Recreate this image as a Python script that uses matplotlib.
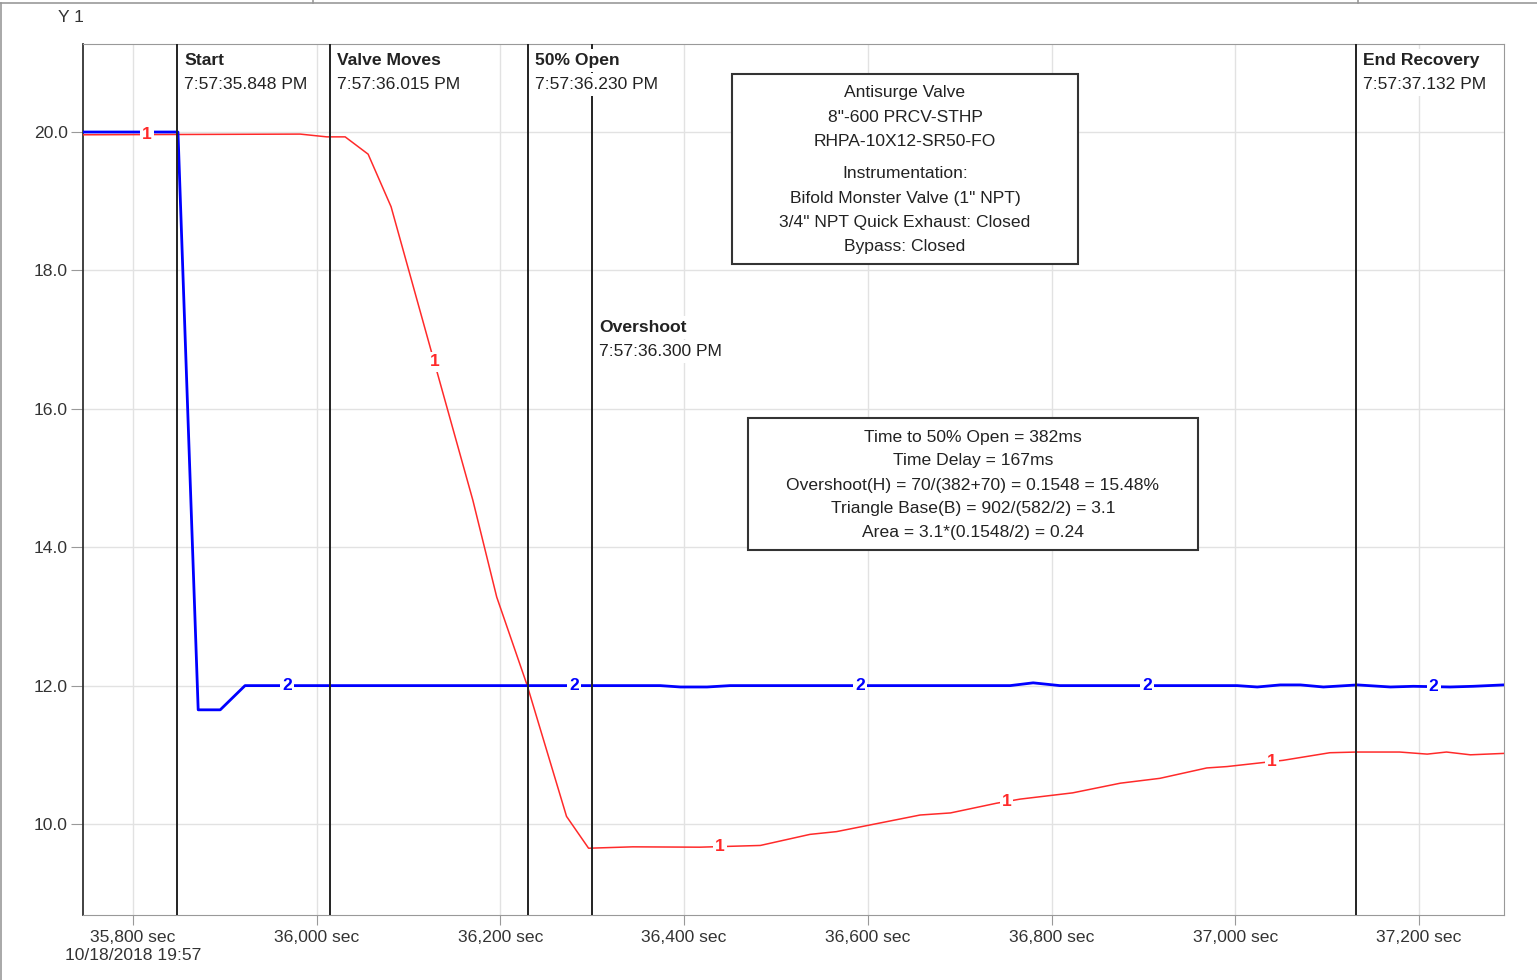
import numpy as np
import matplotlib
matplotlib.use("Agg")
import matplotlib.pyplot as plt
from matplotlib.patches import Rectangle
from matplotlib.lines import Line2D

plt.rcParams['font.family'] = ['Liberation Sans', 'DejaVu Sans']

# series 1 (red)
x1 = [35745, 35982, 36011, 36031, 36056, 36081, 36129, 36170, 36196, 36229,
      36272, 36296, 36344, 36417, 36483, 36537, 36566, 36657, 36690, 36740,
      36766, 36823, 36875, 36918, 36969, 36991, 37052, 37103, 37132, 37179,
      37209, 37230, 37256, 37292]
y1 = [19.96, 19.97, 19.93, 19.93, 19.68, 18.92, 16.63, 14.68, 13.28, 12.01,
      10.11, 9.65, 9.67, 9.665, 9.69, 9.85, 9.89, 10.13, 10.16, 10.30,
      10.36, 10.45, 10.59, 10.66, 10.81, 10.83, 10.92, 11.03, 11.04, 11.04,
      11.01, 11.04, 11.00, 11.02]

# series 2 (blue)
x2 = [35745, 35849, 35871, 35895, 35922, 36374, 36396, 36425, 36450, 36755,
      36780, 36809, 37002, 37024, 37049, 37071, 37096, 37133, 37169, 37194,
      37234, 37259, 37292]
y2 = [20.0, 20.0, 11.65, 11.65, 12.0, 12.0, 11.98, 11.98, 12.0, 12.0,
      12.04, 12.0, 12.0, 11.98, 12.01, 12.01, 11.98, 12.01, 11.98, 11.99,
      11.98, 11.99, 12.01]

# event markers
event_names = ["Start", "Valve Moves", "50% Open", "Overshoot", "End Recovery"]
event_times = ["7:57:35.848 PM", "7:57:36.015 PM", "7:57:36.230 PM",
               "7:57:36.300 PM", "7:57:37.132 PM"]
event_x = [35848, 36015, 36230, 36300, 37132]
event_drop = [0, 0, 0, 267, 0]   # label offset below the top, pixels

x_ticks = [35800, 36000, 36200, 36400, 36600, 36800, 37000, 37200]
y_ticks = [10.0, 12.0, 14.0, 16.0, 18.0, 20.0]
first_date = "10/18/2018 19:57"

box1_lines = ["Antisurge Valve", "8\"-600 PRCV-STHP", "RHPA-10X12-SR50-FO",
              "Instrumentation:", "Bifold Monster Valve (1\" NPT)",
              "3/4\" NPT Quick Exhaust: Closed", "Bypass: Closed"]
box2_lines = ["Time to 50% Open = 382ms", "Time Delay = 167ms",
              "Overshoot(H) = 70/(382+70) = 0.1548 = 15.48%",
              "Triangle Base(B) = 902/(582/2) = 3.1",
              "Area = 3.1*(0.1548/2) = 0.24"]

W, H = 1537, 980
FS = 12.6
TXT = '#222222'


def fx(px):
    return px / W


def fy(py):
    return 1 - py / H


fig = plt.figure(figsize=(W / 100, H / 100), dpi=100)
ax = fig.add_axes([fx(83), fy(915), fx(1504) - fx(83), fy(44) - fy(915)])

ax.plot(x1, y1, color='#ff2a2a', lw=1.1, zorder=3)
ax.plot(x2, y2, color='#0000ff', lw=2.0, zorder=3)

# inline series labels
for xs in [35815, 36128, 36439, 36751, 37040]:
    ax.text(xs, np.interp(xs, x1, y1), "1", color='#ff2a2a', fontsize=FS,
            fontweight='bold', ha='center', va='center', zorder=5,
            bbox=dict(facecolor='white', edgecolor='none', pad=1.5))
for xs in [35968, 36280, 36592, 36904, 37216]:
    ax.text(xs, np.interp(xs, x2, y2), "2", color='#0000ff', fontsize=FS,
            fontweight='bold', ha='center', va='center', zorder=5,
            bbox=dict(facecolor='white', edgecolor='none', pad=1.5))

for name, t, xv, drop in zip(event_names, event_times, event_x, event_drop):
    ax.axvline(xv, color='#222222', lw=1.4, zorder=4)
    ax.annotate(name, xy=(xv, 1), xycoords=('data', 'axes fraction'),
                xytext=(7, -9 - drop), textcoords='offset pixels', va='top',
                ha='left', fontsize=FS, fontweight='bold', color=TXT, zorder=6,
                bbox=dict(facecolor='white', edgecolor='none', pad=3))
    ax.annotate(t, xy=(xv, 1), xycoords=('data', 'axes fraction'),
                xytext=(7, -33 - drop), textcoords='offset pixels', va='top',
                ha='left', fontsize=FS, color=TXT, zorder=6,
                bbox=dict(facecolor='white', edgecolor='none', pad=3))

ax.set_xlim(35745.6, 37292.6)
ax.set_ylim(8.685, 21.272)
ax.set_xticks(x_ticks)
labels = [f"{v:,} sec" for v in x_ticks]
labels[0] = labels[0] + "\n" + first_date
ax.set_xticklabels(labels)
ax.set_yticks(y_ticks)
ax.set_yticklabels([f"{v:.1f}" for v in y_ticks])
ax.tick_params(axis='x', length=7, color='#999999', labelsize=FS,
               labelcolor='#333333', pad=4)
ax.tick_params(axis='y', length=9, color='#999999', labelsize=FS,
               labelcolor='#333333', pad=2)
ax.grid(True, color='#e2e2e2', lw=1, zorder=0)
ax.set_axisbelow(True)
for side in ['top', 'right', 'bottom']:
    ax.spines[side].set_color('#999999')
ax.spines['left'].set_color('#333333')
ax.spines['left'].set_linewidth(1.3)

fig.text(fx(58), fy(17), "Y 1", fontsize=FS, color='#333333', va='center')

# info boxes
fig.add_artist(Rectangle((fx(732), fy(264)), fx(1078) - fx(732), fy(74) - fy(264),
                         transform=fig.transFigure, facecolor='white',
                         edgecolor='#333333', lw=1.5, zorder=10))
for line, py in zip(box1_lines, [93, 117, 141, 174, 198, 222, 246]):
    fig.text(fx(905), fy(py), line, fontsize=FS, color=TXT, ha='center',
             va='center', zorder=11)

fig.add_artist(Rectangle((fx(748), fy(550)), fx(1198) - fx(748), fy(418) - fy(550),
                         transform=fig.transFigure, facecolor='white',
                         edgecolor='#333333', lw=1.5, zorder=10))
for line, py in zip(box2_lines, [437, 461, 485, 509, 533]):
    fig.text(fx(973), fy(py), line, fontsize=FS, color=TXT, ha='center',
             va='center', zorder=11)

# outer frame of the window
for xs, ys in [([fx(1), fx(1)], [fy(980), fy(3)]),
               ([fx(0), fx(1537)], [fy(3), fy(3)]),
               ([fx(313), fx(313)], [fy(0), fy(3)]),
               ([fx(1358), fx(1358)], [fy(0), fy(3)])]:
    fig.add_artist(Line2D(xs, ys, color='#999999', lw=1.2,
                          transform=fig.transFigure))

fig.savefig("out.png", dpi=100, facecolor='white')
